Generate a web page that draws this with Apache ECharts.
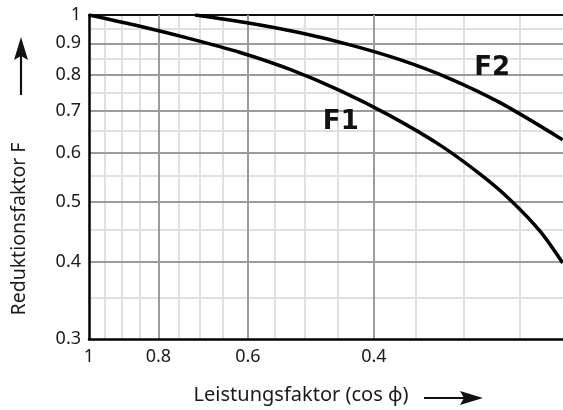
<!DOCTYPE html>
<html>
<head>
<meta charset="utf-8">
<script src="https://cdn.jsdelivr.net/npm/echarts@6/dist/echarts.min.js"></script>
<style>
  html, body { margin: 0; padding: 0; background: #fff; }
  #chart { width: 563px; height: 410px; }
</style>
</head>
<body>
<div id="chart"></div>
<script>
// Leistungsfaktor (cos phi) vs. Reduktionsfaktor F
var f1Cos = [1, 0.849, 0.723, 0.615, 0.524, 0.446, 0.380, 0.323, 0.284, 0.258, 0.2345, 0.218];
var f1F   = [1, 0.959, 0.916, 0.870, 0.817, 0.755, 0.688, 0.616, 0.553, 0.503, 0.448, 0.398];

var f2Cos = [0.711, 0.596, 0.507, 0.432, 0.368, 0.313, 0.2667, 0.218];
var f2F   = [1, 0.970, 0.936, 0.895, 0.847, 0.789, 0.722, 0.629];

var xLabels = [1, 0.8, 0.6, 0.4];
var xMajor = [0.8, 0.6, 0.4];
var xMinor = [0.95, 0.9, 0.85, 0.75, 0.7, 0.65, 0.55, 0.5, 0.45, 0.35, 0.3, 0.25];

var yLabels = [0.3, 0.4, 0.5, 0.6, 0.7, 0.8, 0.9, 1];
var yMajor = [0.4, 0.5, 0.6, 0.7, 0.8, 0.9];
var yMinor = [0.35, 0.45, 0.55, 0.65, 0.75, 0.85, 0.95];

var f1LabelAt = [0.445, 0.672];
var f2LabelAt = [0.2736, 0.821];

var xMin = 0.2178;
var font = 'Noto Sans';

function pairs(xs, ys) {
    return xs.map(function (x, i) { return [x, ys[i]]; });
}
function fmt(v) {
    return String(Math.round(v * 100) / 100);
}

var chart = echarts.init(document.getElementById('chart'));
chart.setOption({
    animation: false,
    grid: { left: 89, top: 15, right: 0, bottom: 71 },
    xAxis: [
        {   // feine Linien + obere Kante
            type: 'log', inverse: true, min: xMin, max: 1, position: 'top', z: 0,
            axisLine: { show: true, onZero: false, lineStyle: { color: '#111', width: 2 } },
            axisTick: { show: false, customValues: xMinor },
            axisLabel: { show: false },
            splitLine: { show: true, lineStyle: { color: '#e0e0e0', width: 2 } }
        },
        {
            type: 'log', inverse: true, min: xMin, max: 1, position: 'bottom', z: 1,
            axisLine: { show: true, onZero: false, lineStyle: { color: '#000', width: 2.5 } },
            axisTick: { show: false, customValues: xMajor },
            axisLabel: {
                customValues: xLabels, formatter: fmt, margin: 9,
                fontFamily: font, fontSize: 18, color: '#1a1a1a'
            },
            splitLine: { show: true, lineStyle: { color: '#9c9c9c', width: 2 } }
        }
    ],
    yAxis: [
        {
            type: 'log', min: 0.3, max: 1, z: 0,
            axisLine: { show: false },
            axisTick: { show: false, customValues: yMinor },
            axisLabel: { show: false },
            splitLine: { show: true, lineStyle: { color: '#e0e0e0', width: 2 } }
        },
        {
            type: 'log', min: 0.3, max: 1, position: 'left', z: 1,
            axisLine: { show: true, onZero: false, lineStyle: { color: '#000', width: 2.5 } },
            axisTick: { show: false, customValues: yMajor },
            axisLabel: {
                customValues: yLabels, formatter: fmt, margin: 8,
                fontFamily: font, fontSize: 18, color: '#1a1a1a'
            },
            splitLine: { show: true, lineStyle: { color: '#9c9c9c', width: 2 } }
        }
    ],
    series: [
        {
            name: 'F1', type: 'line', xAxisIndex: 1, yAxisIndex: 1,
            data: pairs(f1Cos, f1F), showSymbol: false, smooth: 0.3, z: 3,
            lineStyle: { color: '#000', width: 3.5 },
            markPoint: {
                symbol: 'rect', symbolSize: 1, itemStyle: { color: 'rgba(0,0,0,0)' },
                label: {
                    show: true, position: 'inside', formatter: 'F1',
                    fontFamily: 'DejaVu Sans', fontWeight: 'bold', fontSize: 26, color: '#111'
                },
                data: [{ coord: f1LabelAt }]
            }
        },
        {
            name: 'F2', type: 'line', xAxisIndex: 1, yAxisIndex: 1,
            data: pairs(f2Cos, f2F), showSymbol: false, smooth: 0.3, z: 3,
            lineStyle: { color: '#000', width: 3.5 },
            markPoint: {
                symbol: 'rect', symbolSize: 1, itemStyle: { color: 'rgba(0,0,0,0)' },
                label: {
                    show: true, position: 'inside', formatter: 'F2',
                    fontFamily: 'DejaVu Sans', fontWeight: 'bold', fontSize: 26, color: '#111'
                },
                data: [{ coord: f2LabelAt }]
            }
        }
    ],
    graphic: [
        {
            type: 'text', x: 19, y: 229, rotation: Math.PI / 2,
            style: {
                text: 'Reduktionsfaktor F', fill: '#1a1a1a',
                font: '19.5px "Noto Sans"', align: 'center', verticalAlign: 'middle'
            }
        },
        { type: 'line', shape: { x1: 21, y1: 95, x2: 21, y2: 54 }, style: { stroke: '#111', lineWidth: 2.2 } },
        { type: 'polygon', shape: { points: [[21, 37], [28, 60], [21, 56], [14, 60]] }, style: { fill: '#111' } },
        {
            type: 'text', x: 301, y: 395,
            style: {
                text: 'Leistungsfaktor (cos \u03d5)', fill: '#1a1a1a',
                font: '20px "Noto Sans"', align: 'center', verticalAlign: 'middle'
            }
        },
        { type: 'line', shape: { x1: 424, y1: 398, x2: 466, y2: 398 }, style: { stroke: '#111', lineWidth: 2.2 } },
        { type: 'polygon', shape: { points: [[483, 398], [460, 391], [464, 398], [460, 405]] }, style: { fill: '#111' } }
    ]
});
</script>
</body>
</html>
